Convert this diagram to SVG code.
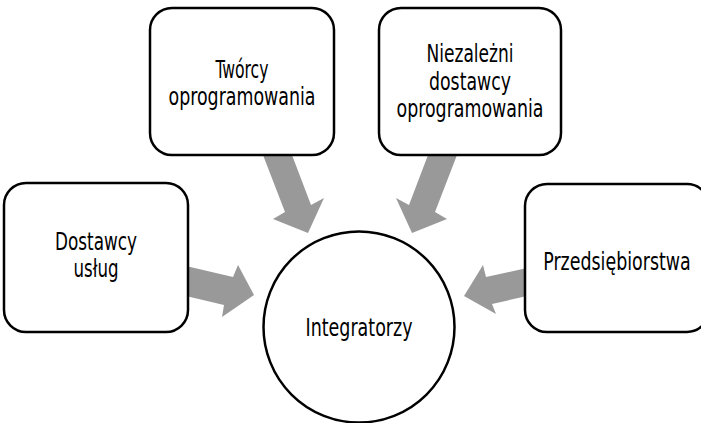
<svg xmlns="http://www.w3.org/2000/svg" width="701" height="423" viewBox="0 0 701 423">
<style>
.box{fill:#fff;stroke:#000;stroke-width:2.5}
.arrow{fill:#999999;stroke:none}
.lbl{font-family:"DejaVu Sans Condensed","DejaVu Sans","Liberation Sans",sans-serif;font-stretch:condensed;font-size:25px;fill:#000;text-anchor:middle}
</style>
<rect width="701" height="423" fill="#fff"/>
<g id="connectors">
<polygon class="arrow" points="263,155 292,155 311,205 324,198 308,233 273,219 285,212"/>
<polygon class="arrow" points="457,155 428,155 409,205 396,198 412,233 447,219 435,212"/>
<polygon class="arrow" points="186,266 233,277 238,265 254,295 222,317 224,305 186,296"/>
<polygon class="arrow" points="527,268 486,277 483,265 464,296 496,314 492,304 527,296"/>
</g>
<g id="node-tworcy">
<rect class="box" x="150" y="8" width="184" height="147" rx="22"/>
<text class="lbl" x="242" y="78" textLength="53" lengthAdjust="spacingAndGlyphs">Twórcy</text>
<text class="lbl" x="242" y="105" textLength="147" lengthAdjust="spacingAndGlyphs">oprogramowania</text>
</g>
<g id="node-niezalezni">
<rect class="box" x="379" y="8" width="182" height="147" rx="22"/>
<text class="lbl" x="470" y="62" textLength="87" lengthAdjust="spacingAndGlyphs">Niezależni</text>
<text class="lbl" x="470" y="90" textLength="82" lengthAdjust="spacingAndGlyphs">dostawcy</text>
<text class="lbl" x="470" y="117" textLength="147" lengthAdjust="spacingAndGlyphs">oprogramowania</text>
</g>
<g id="node-dostawcy">
<rect class="box" x="4" y="183" width="184" height="149" rx="22"/>
<text class="lbl" x="96" y="250" textLength="82" lengthAdjust="spacingAndGlyphs">Dostawcy</text>
<text class="lbl" x="96" y="277" textLength="45" lengthAdjust="spacingAndGlyphs">usług</text>
</g>
<g id="node-przedsiebiorstwa">
<rect class="box" x="525" y="184" width="184" height="148" rx="22"/>
<text class="lbl" transform="translate(617,270) scale(0.775,1)" x="0" y="0">Przedsiębiorstwa</text>
</g>
<g id="node-integratorzy">
<circle class="box" cx="359" cy="327" r="95.5"/>
<text class="lbl" x="359" y="336" textLength="107" lengthAdjust="spacingAndGlyphs">Integratorzy</text>
</g>
</svg>
